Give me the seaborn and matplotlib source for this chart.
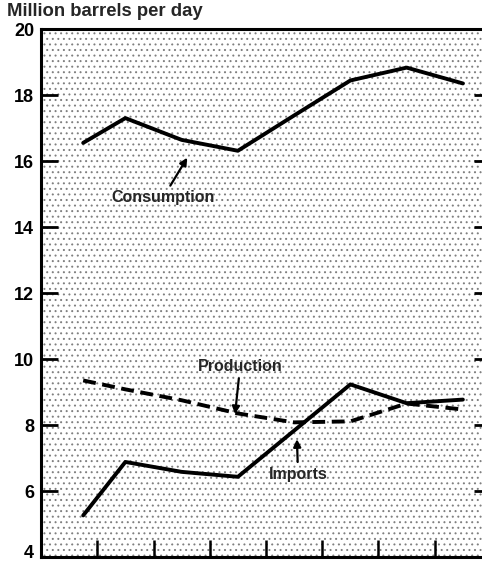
import numpy as np
import matplotlib
matplotlib.use("Agg")
import matplotlib.pyplot as plt
import matplotlib.patches as mpatches
import matplotlib.transforms as mtransforms
import seaborn as sns
import pandas as pd

sns.set_theme(style="ticks")
plt.rcParams['font.family'] = ['Liberation Sans', 'DejaVu Sans']
plt.rcParams['hatch.linewidth'] = 0.7
plt.rcParams['hatch.color'] = '#808080'

# Data (x in tick units, year midpoints)
years = [0.75, 1.5, 2.5, 3.5, 4.5, 5.5, 6.5, 7.5]
consumption = [16.55, 17.3, 16.64, 16.31, 17.38, 18.44, 18.83, 18.35]
production = [9.35, 9.08, 8.75, 8.35, 8.08, 8.11, 8.65, 8.47]
imports = [5.26, 6.88, 6.58, 6.43, 7.83, 9.23, 8.66, 8.77]
y_ticks = [4, 6, 8, 10, 12, 14, 16, 18, 20]
x_ticks = [1, 2, 3, 4, 5, 6, 7]

df = pd.DataFrame({"x": years, "Consumption": consumption,
                   "Production": production, "Imports": imports})

fig = plt.figure(figsize=(4.82, 5.64), dpi=100)
fig.patch.set_facecolor("white")
ax = fig.add_axes([41 / 482, 7 / 564, 450 / 482, 528 / 564])
ax.set_facecolor("white")

# stippled background
bg = mpatches.Rectangle((0, 0), 1, 1, transform=ax.transAxes, facecolor="white",
                        edgecolor="#808080", hatch="...", linewidth=0, zorder=0)
ax.add_patch(bg)

sns.lineplot(data=df, x="x", y="Consumption", ax=ax, color="black", lw=2.8, zorder=3)
sns.lineplot(data=df, x="x", y="Imports", ax=ax, color="black", lw=2.8, zorder=3)
sns.lineplot(data=df, x="x", y="Production", ax=ax, color="black", lw=2.8,
             zorder=3, linestyle=(0, (3.3, 1.7)))

ax.set_xlim(0, 8)
ax.set_ylim(4, 20)
ax.set_xticks(x_ticks)
ax.set_xticklabels([])
ax.set_yticks(y_ticks)
ax.set_yticklabels([str(v) for v in y_ticks], fontsize=13, fontweight="bold")
ax.tick_params(axis="y", direction="in", length=12, width=2, pad=5,
               left=True, right=True, colors="black")
ax.tick_params(axis="x", direction="in", length=12, width=1.8, colors="black")
ax.set_xlabel("")
ax.set_ylabel("")
for side in ["left", "top", "bottom", "right"]:
    ax.spines[side].set_linewidth(2.2)
    ax.spines[side].set_color("black")

# lift the bottom "4" so it stays inside the picture
lift = mtransforms.ScaledTranslation(0, 5 / 100, fig.dpi_scale_trans)
first = ax.get_yticklabels()[0]
first.set_transform(first.get_transform() + lift)

fig.text(7 / 482, 1 - 12 / 564, "Million barrels per day", fontsize=13.3,
         fontweight="bold", va="center", ha="left")

lab = dict(fontsize=11.5, fontweight="bold", ha="center", va="center")
arrow = dict(arrowstyle="-|>", lw=1.6, color="black", mutation_scale=11,
             shrinkA=1, shrinkB=0)
ax.annotate("Consumption", xy=(2.6, 16.1), xytext=(2.17, 14.89),
            arrowprops=arrow, zorder=4, **lab)
ax.annotate("Production", xy=(3.45, 8.33), xytext=(3.54, 9.78),
            arrowprops=arrow, zorder=4, **lab)
ax.annotate("Imports", xy=(4.55, 7.57), xytext=(4.57, 6.51),
            arrowprops=arrow, zorder=4, **lab)

fig.savefig("out.png", dpi=100, facecolor="white")
